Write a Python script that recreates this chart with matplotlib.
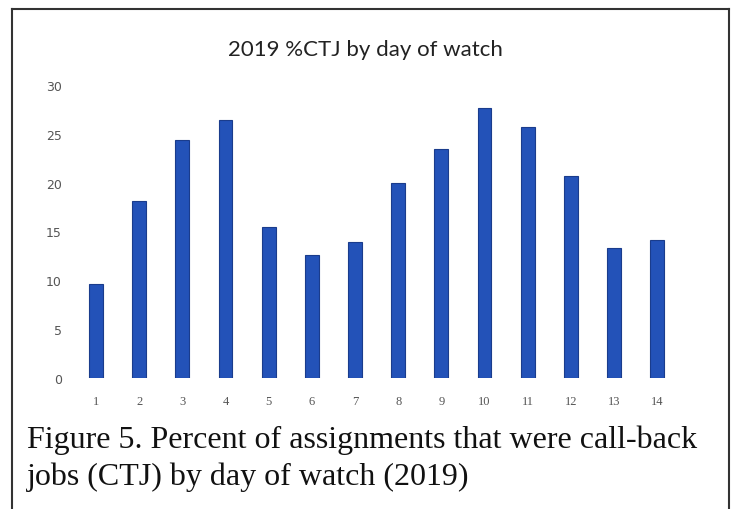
import numpy as np
import matplotlib
matplotlib.use("Agg")
import matplotlib.pyplot as plt
from matplotlib.lines import Line2D

# Data
days = [str(d) for d in range(1, 15)]
pct_ctj = [9.6, 18.1, 24.4, 26.4, 15.5, 12.6, 13.9, 20.0, 23.4, 27.6, 25.7, 20.7, 13.3, 14.1]
y_ticks = [0, 5, 10, 15, 20, 25, 30]

title = "2019 %CTJ by day of watch"
caption = ("Figure 5. Percent of assignments that were call-back\n"
           "jobs (CTJ) by day of watch (2019)")

fig = plt.figure(figsize=(7.37, 5.10), dpi=100)
ax = fig.add_axes([0.101, 0.257, 0.820, 0.5745])

x = np.arange(1, len(days) + 1)
ax.bar(x, pct_ctj, width=0.32, color="#2352b8", edgecolor="#1a3c8c", linewidth=0.8)

ax.set_xlim(0.5, 14.5)
ax.set_ylim(0, 30)
ax.set_xticks(x)
ax.set_xticklabels(days, fontsize=9, color="#555555", family="Liberation Serif")
ax.set_yticks(y_ticks)
ax.set_yticklabels([str(v) for v in y_ticks], fontsize=9, color="#555555")
ax.tick_params(axis="both", length=0)
ax.tick_params(axis="x", pad=12)
ax.tick_params(axis="y", pad=9)
for s in ax.spines.values():
    s.set_visible(False)

fig.text(0.496, 0.902, title, ha="center", va="center", fontsize=16,
         family="Lato", color="#222222")

fig.text(0.036, 0.100, caption, ha="left", va="center", fontsize=23,
         family="Liberation Serif", color="#111111", linespacing=1.34)

# border of the scanned figure box (bottom edge runs off the page)
bx0, bx1, by1 = 12 / 737, 729 / 737, 1 - 10 / 510
for xs, ys in [([bx0, bx0], [-0.05, by1]), ([bx0, bx1], [by1, by1]), ([bx1, bx1], [by1, -0.05])]:
    fig.add_artist(Line2D(xs, ys, color="#333333", linewidth=1.5, transform=fig.transFigure))

fig.savefig("out.png", dpi=100)
